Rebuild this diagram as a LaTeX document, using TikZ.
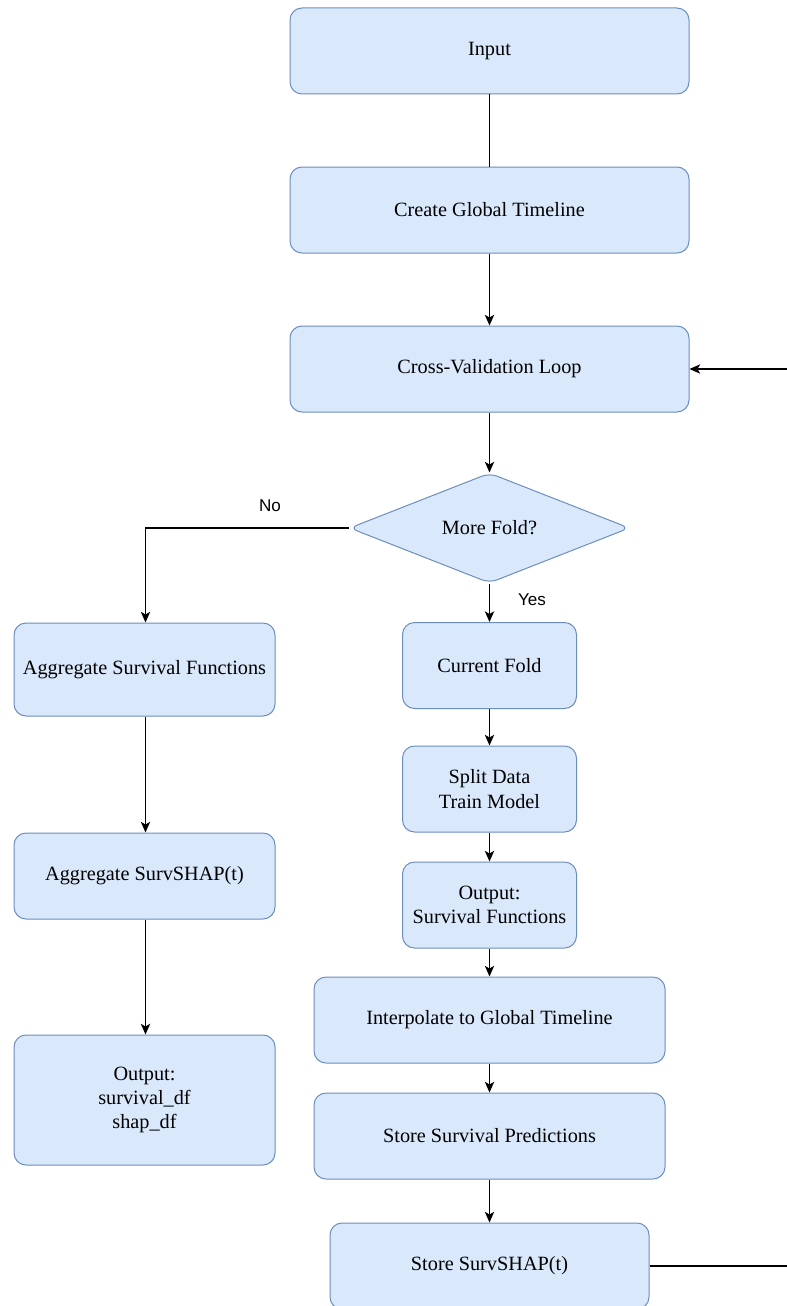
\documentclass[tikz,border=0pt]{standalone}
\usepackage{fontspec}
\setmainfont{Liberation Serif}
\newfontfamily\labelfont{Liberation Sans}
\usetikzlibrary{shapes.geometric,arrows.meta}
\definecolor{boxfill}{HTML}{DAE8FC}
\definecolor{boxline}{HTML}{6C8EBF}
\begin{document}
\begin{tikzpicture}[x=0.75pt,y=-0.75pt,
  box/.style={draw=boxline,fill=boxfill,line width=0.75pt,rounded corners=9pt,align=center,
    font=\fontsize{15.2}{18.2}\selectfont,inner sep=2pt},
  dec/.style={draw=boxline,fill=boxfill,line width=0.75pt,shape=diamond,rounded corners=6pt,
    inner sep=0pt,minimum width=210pt,minimum height=82.5pt,font=\fontsize{15.2}{18.2}\selectfont},
  conn/.style={line width=0.9pt,black},
  arr/.style={conn,-{Stealth[length=8pt,width=7pt,inset=2pt]}},
  lbl/.style={font=\labelfont\fontsize{12.8}{15}\selectfont}
]
\useasboundingbox (0,0) rectangle (787,1306);
\node[box,minimum width=299.25pt,minimum height=64.5pt] (input) at (489.5,51) {Input};
\node[box,minimum width=299.25pt,minimum height=64.5pt] (cgt) at (489.5,210) {Create Global Timeline};
\node[box,minimum width=299.25pt,minimum height=64.5pt] (cvl) at (489.5,369) {Cross-Validation Loop};
\node[dec] (more) at (489.5,528) {More Fold?};
\node[box,minimum width=130.5pt,minimum height=64.5pt] (cur) at (489.5,665.5) {Current Fold};
\node[box,minimum width=130.5pt,minimum height=64.5pt] (split) at (489.5,789) {Split Data\\Train Model};
\node[box,minimum width=130.5pt,minimum height=64.5pt] (osf) at (489.5,905) {Output:\\Survival Functions};
\node[box,minimum width=263.25pt,minimum height=64.5pt] (interp) at (489.5,1020) {Interpolate to Global Timeline};
\node[box,minimum width=263.25pt,minimum height=64.5pt] (ssp) at (489.5,1136) {Store Survival Predictions};
\node[box,minimum width=239.25pt,minimum height=64.5pt] (sshap) at (489.5,1266) {Store SurvSHAP(t)};
\node[box,minimum width=195.75pt,minimum height=69.75pt] (asf) at (144.5,669.5) {Aggregate Survival Functions};
\node[box,minimum width=195.75pt,minimum height=64.5pt] (ashap) at (144.5,876) {Aggregate SurvSHAP(t)};
\node[box,minimum width=195.75pt,minimum height=97.5pt] (out) at (144.5,1100) {Output:\\survival\_df\\shap\_df};
\coordinate (loopb) at (792,1266);
\coordinate (turn) at (145.5,528);

\draw[conn] (input) -- (cgt);
\draw[arr] (cgt) -- (cvl);
\draw[arr] (cvl) -- (more);
\draw[arr] (more.west) -- (turn) -- (asf.north -| turn);
\node[lbl] (no) at (270,506) {No};
\draw[arr] (more.south) -- (cur.north -| more.south);
\node[lbl] (yes) at (532,600) {Yes};
\draw[arr] (cur) -- (split);
\draw[arr] (split) -- (osf);
\draw[arr] (osf) -- (interp);
\draw[arr] (interp) -- (ssp);
\draw[arr] (ssp) -- (sshap);
\draw[arr] (sshap.east) -- (loopb) |- (cvl.east);
\draw[arr] (asf.south -| turn) -- (ashap.north -| turn);
\draw[arr] (ashap.south -| turn) -- (out.north -| turn);
\end{tikzpicture}
\end{document}
